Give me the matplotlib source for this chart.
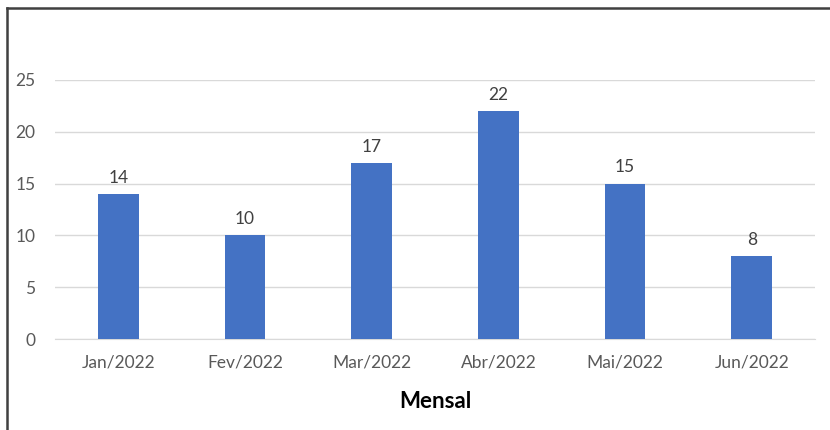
import matplotlib.pyplot as plt
from matplotlib.lines import Line2D

# Data
months = ["Jan/2022", "Fev/2022", "Mar/2022", "Abr/2022", "Mai/2022", "Jun/2022"]
values = [14, 10, 17, 22, 15, 8]
y_ticks = [0, 5, 10, 15, 20, 25]

plt.rcParams['font.family'] = ['Lato', 'DejaVu Sans']

fig = plt.figure(figsize=(8.3, 4.3), dpi=100)
ax = fig.add_axes([0.0663, 0.2116, 0.9157, 0.6024])

x = range(len(months))
bars = ax.bar(x, values, width=0.32, color="#4472C4", zorder=3)

for b, v in zip(bars, values):
    ax.annotate(str(v), (b.get_x() + b.get_width() / 2, v),
                xytext=(0, 6), textcoords="offset points",
                ha="center", va="bottom", fontsize=12.5, color="#404040")

ax.set_xlim(-0.5, len(months) - 0.5)
ax.set_ylim(0, 25)
ax.set_yticks(y_ticks)
ax.set_xticks(list(x))
ax.set_xticklabels(months)
ax.tick_params(axis="both", length=0, labelsize=12.5, labelcolor="#595959")
ax.tick_params(axis="y", pad=14)
ax.tick_params(axis="x", pad=11)
ax.grid(axis="y", color="#D9D9D9", linewidth=1, zorder=0)
for s in ["top", "right", "left"]:
    ax.spines[s].set_visible(False)
ax.spines["bottom"].set_color("#D9D9D9")

ax.set_xlabel("Mensal", fontsize=16, fontweight="bold", color="#000000", labelpad=15)

# outer frame (left and top edges)
fig.add_artist(Line2D([7 / 830, 7 / 830], [0, 1 - 8 / 430], transform=fig.transFigure,
                      color="#404040", linewidth=1.8))
fig.add_artist(Line2D([7 / 830, 1], [1 - 8 / 430, 1 - 8 / 430], transform=fig.transFigure,
                      color="#404040", linewidth=1.8))

plt.savefig("out.png", dpi=100)
